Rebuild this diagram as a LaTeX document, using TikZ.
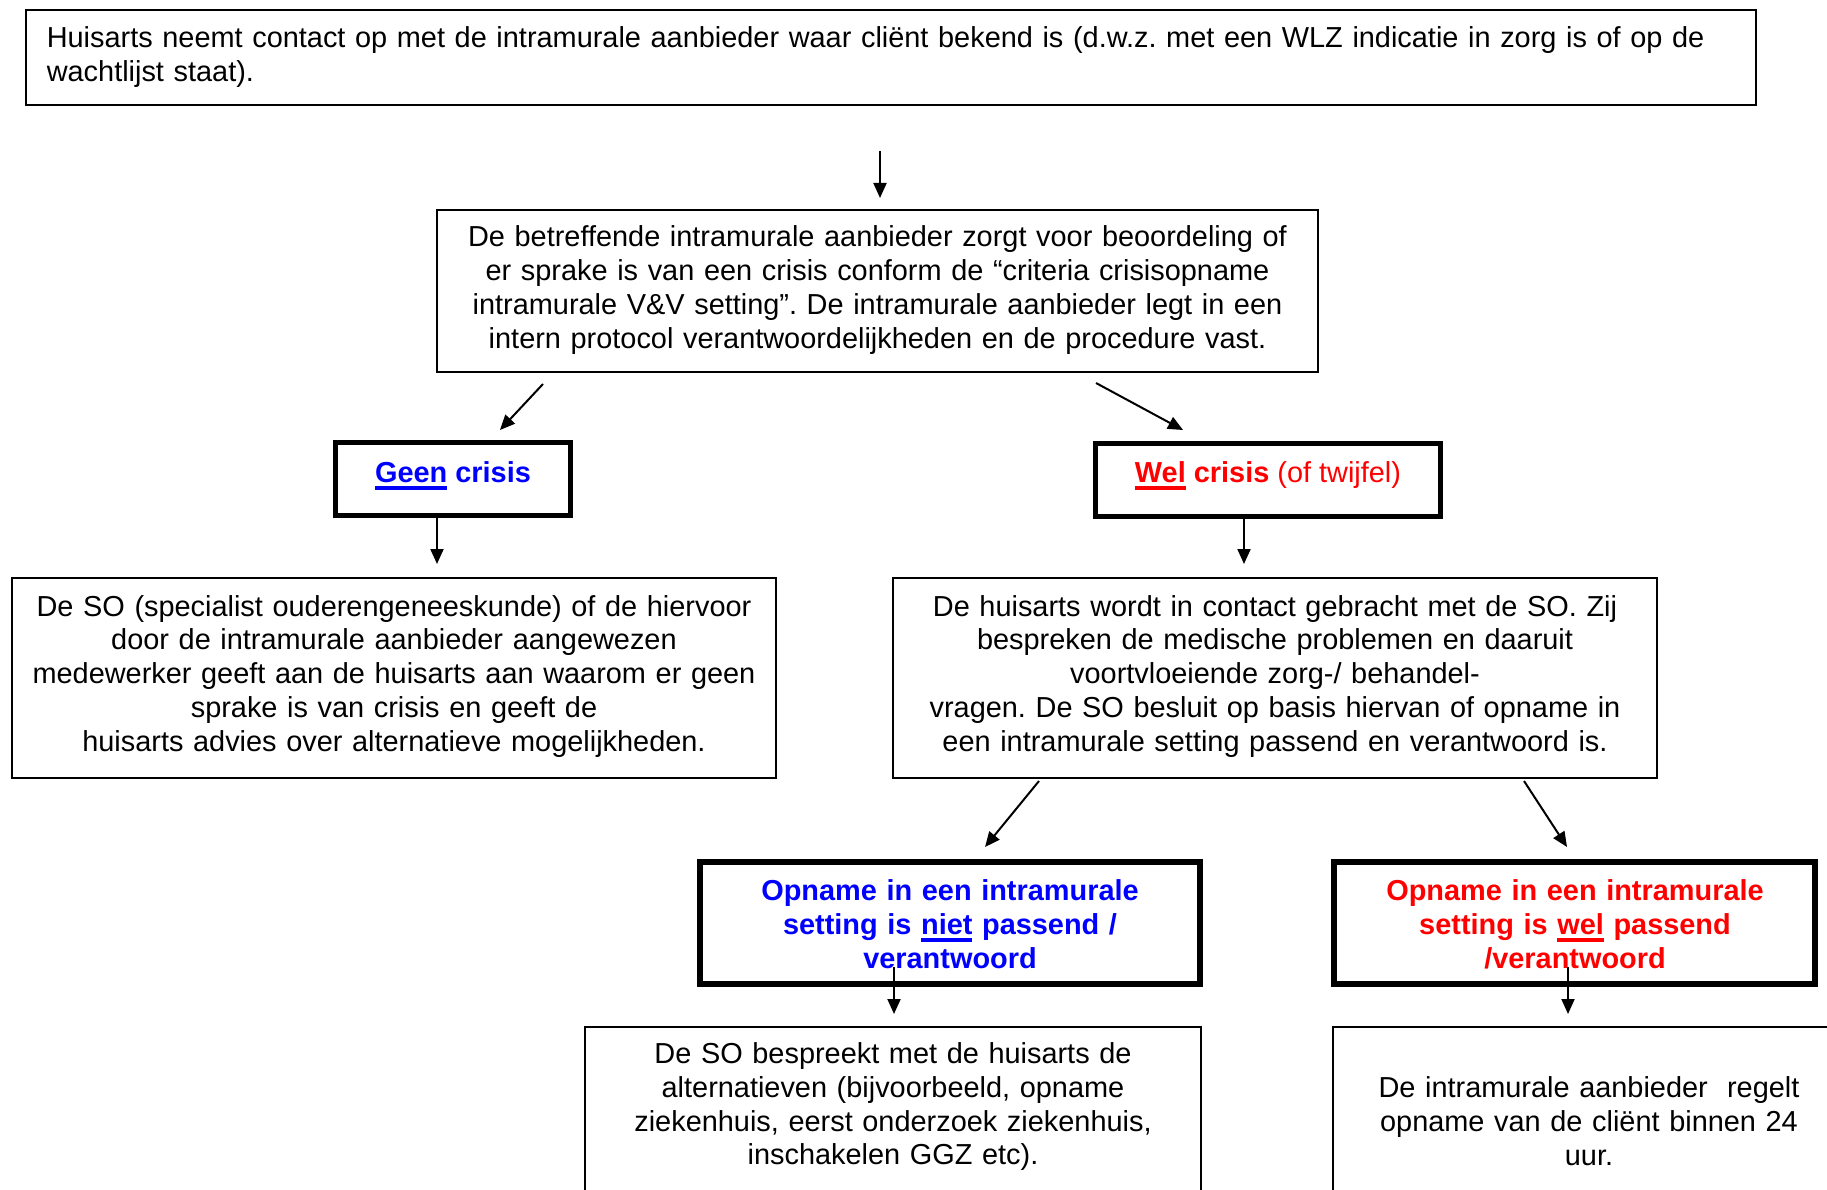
\documentclass[tikz,border=0pt]{standalone}
\usepackage{fontspec}
\setmainfont{Liberation Sans}
\usetikzlibrary{arrows.meta}
\definecolor{myblue}{RGB}{0,0,255}
\definecolor{myred}{RGB}{255,0,0}
\newsavebox\ulxbox
\newcommand\ulx[1]{\sbox\ulxbox{#1}\rlap{\vrule height -3.5pt depth 7.5pt width \wd\ulxbox}\usebox\ulxbox}
\frenchspacing
\begin{document}
\begin{tikzpicture}[x=1pt,y=-1pt,
  thinbox/.style={draw, line width=2pt, inner sep=0pt},
  thickbox/.style={draw, line width=5.5pt, inner sep=0pt},
  txt/.style={inner sep=0pt, align=center, font=\fontsize{28.9}{33.8}\selectfont},
  boldtxt/.style={txt, font=\fontsize{28.9}{33.8}\selectfont\bfseries},
  arr/.style={line width=2pt, -{Triangle[length=15pt,width=13pt]}}]
\useasboundingbox (0,0) rectangle (1827,1190);
\clip (0,0) rectangle (1827,1190);
\fill[white] (0,0) rectangle (1827,1190);

% boxes
\node[thinbox, minimum width=1730pt, minimum height=95.5pt] (b0) at (890.5,57.75) {};
\node[thinbox, minimum width=881pt, minimum height=162pt] (b2) at (877.5,291) {};
\node[thickbox, minimum width=234.6pt, minimum height=72.6pt] (geen) at (453,479) {};
\node[thickbox, minimum width=344.6pt, minimum height=72.6pt] (wel) at (1268,480) {};
\node[thinbox, minimum width=764pt, minimum height=200pt] (left) at (394,678) {};
\node[thinbox, minimum width=764pt, minimum height=200pt] (right) at (1275,678) {};
\node[thickbox, minimum width=500pt, minimum height=122pt] (niet) at (950,923) {};
\node[thickbox, minimum width=481pt, minimum height=122pt] (wel2) at (1574.5,923) {};
\node[thinbox, minimum width=616pt, minimum height=223.5pt] (botL) at (893,1138.25) {};
\node[thinbox, minimum width=512pt, minimum height=223.5pt] (botR) at (1589,1138.25) {};

% texts
\node[txt, align=left, text width=1705pt, anchor=base west] (t0) at (46.6,48)
  {Huisarts neemt contact op met de intramurale aanbieder waar cliënt bekend is (d.w.z. met een WLZ indicatie in zorg is of op de\\wachtlijst staat).};
\node[txt, text width=870pt, anchor=base] (t2) at (877.5,247)
  {De betreffende intramurale aanbieder zorgt voor beoordeling of\\er sprake is van een crisis conform de “criteria crisisopname\\intramurale V\&V setting”. De intramurale aanbieder legt in een\\intern protocol verantwoordelijkheden en de procedure vast.};
\node[boldtxt, anchor=base, text=myblue] (tgeen) at (453,482)
  {\ulx{Geen} crisis};
\node[txt, anchor=base, text=myred] (twel) at (1268,482)
  {\textbf{\ulx{Wel} crisis} (of twijfel)};
\node[txt, text width=755pt, anchor=base] (tleft) at (394,616)
  {De SO (specialist ouderengeneeskunde) of de hiervoor\\door de intramurale aanbieder aangewezen\\medewerker geeft aan de huisarts aan waarom er geen\\sprake is van crisis en geeft de\\huisarts advies over alternatieve mogelijkheden.};
\node[txt, text width=755pt, anchor=base] (tright) at (1275,616)
  {De huisarts wordt in contact gebracht met de SO. Zij\\bespreken de medische problemen en daaruit\\voortvloeiende zorg-/ behandel-\\vragen. De SO besluit op basis hiervan of opname in\\een intramurale setting passend en verantwoord is.};
\node[boldtxt, text width=490pt, anchor=base, text=myblue] (tniet) at (950,900.5)
  {Opname in een intramurale\\setting is \ulx{niet} passend /\\verantwoord};
\node[boldtxt, text width=475pt, anchor=base, text=myred] (twel2) at (1575,900.5)
  {Opname in een intramurale\\setting is \ulx{wel} passend\\/verantwoord};
\node[txt, text width=610pt, anchor=base] (tbotL) at (893,1063.5)
  {De SO bespreekt met de huisarts de\\alternatieven (bijvoorbeeld, opname\\ziekenhuis, eerst onderzoek ziekenhuis,\\inschakelen GGZ etc).};
\node[txt, text width=500pt, anchor=base] (tbotR) at (1589,1097.5)
  {De intramurale aanbieder\ \ regelt\\opname van de cliënt binnen 24\\uur.};

% arrow end points
\coordinate (a1s) at (880,151);  \coordinate (a1e) at (880,198);
\coordinate (a2s) at (543,384);  \coordinate (a2e) at (500,430);
\coordinate (a3s) at (1096,383); \coordinate (a3e) at (1183,430);
\coordinate (a4s) at (437,518);  \coordinate (a4e) at (437,564);
\coordinate (a5s) at (1244,519); \coordinate (a5e) at (1244,564);
\coordinate (a6s) at (1039,781); \coordinate (a6e) at (985,847);
\coordinate (a7s) at (1524,781); \coordinate (a7e) at (1567,847);
\coordinate (a8s) at (894,967);  \coordinate (a8e) at (894,1014);
\coordinate (a9s) at (1568,967); \coordinate (a9e) at (1568,1014);

\draw[arr] (a1s) -- (a1e);
\draw[arr] (a2s) -- (a2e);
\draw[arr] (a3s) -- (a3e);
\draw[arr] (a4s) -- (a4e);
\draw[arr] (a5s) -- (a5e);
\draw[arr] (a6s) -- (a6e);
\draw[arr] (a7s) -- (a7e);
\draw[arr] (a8s) -- (a8e);
\draw[arr] (a9s) -- (a9e);
\end{tikzpicture}
\end{document}
